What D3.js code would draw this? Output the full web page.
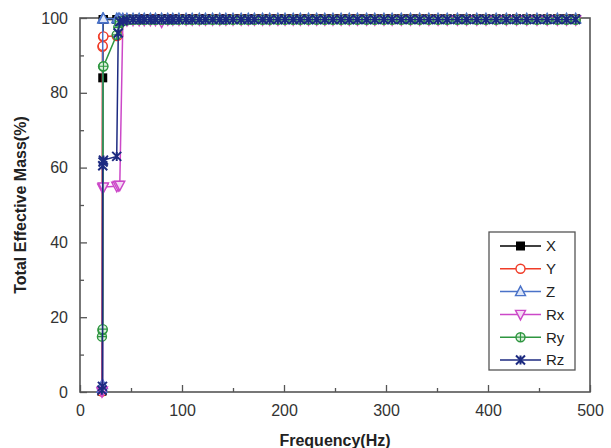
<!DOCTYPE html>
<html><head><meta charset="utf-8">
<script src="https://cdn.jsdelivr.net/npm/d3@7/dist/d3.min.js"></script>
<style>body{margin:0;background:#fff}svg{display:block}text{font-family:"Liberation Sans",Arial,sans-serif}</style>
</head><body><svg id="c" width="611" height="448"></svg>
<script>
const freq = [21.5,22.0,22.3,22.6,23.0,36.0,37.5,39.0,42.0,46.0,
  52,58,63,69,74,80,86,91,97,104,110,117,123,130,137,143,150,158,165,171,179,186,194,201,209,216,224,232,240,248,256,264,272,281,289,298,306,315,324,333,342,351,360,370,379,389,398,408,418,428,438,448,458,468,477,486];
const sX  = [0.2,0.5,84.0,99.6,99.6,99.6,99.6,99.6,99.7,99.7,
  99.7,99.7,99.8,99.8,99.8,99.8,99.8,99.8,99.8,99.8,99.8,99.8,99.8,99.8,99.8,99.8,99.8,99.8,99.8,99.8,99.8,99.8,99.8,99.8,99.8,99.8,99.8,99.8,99.8,99.8,99.8,99.8,99.8,99.8,99.8,99.8,99.8,99.8,99.8,99.8,99.8,99.8,99.8,99.8,99.8,99.8,99.8,99.8,99.8,99.8,99.8,99.8,99.8,99.8,99.8,99.8];
const sY  = [0.1,92.3,92.5,95.0,95.1,95.2,95.4,99.5,99.6,99.6,
  99.6,99.6,99.7,99.7,99.7,99.7,99.7,99.7,99.7,99.7,99.7,99.7,99.7,99.7,99.7,99.7,99.7,99.7,99.7,99.7,99.7,99.7,99.7,99.7,99.7,99.7,99.7,99.7,99.7,99.7,99.7,99.7,99.7,99.7,99.7,99.7,99.7,99.7,99.7,99.7,99.7,99.7,99.7,99.7,99.7,99.7,99.7,99.7,99.7,99.7,99.7,99.7,99.7,99.7,99.7,99.7];
const sZ  = [1.0,2.0,99.8,99.8,99.8,99.8,99.8,99.8,99.8,99.8,
  99.8,99.8,99.8,99.8,99.8,99.8,99.8,99.8,99.8,99.8,99.8,99.8,99.8,99.8,99.8,99.8,99.8,99.8,99.8,99.8,99.8,99.8,99.8,99.8,99.8,99.8,99.8,99.8,99.8,99.8,99.8,99.8,99.8,99.8,99.8,99.8,99.8,99.8,99.8,99.8,99.8,99.8,99.8,99.8,99.8,99.8,99.8,99.8,99.8,99.8,99.8,99.8,99.8,99.8,99.8,99.8];
const sRx = [0.1,0.3,54.5,54.7,54.8,55.0,55.2,55.3,99.0,99.3,
  99.4,99.4,99.4,99.4,99.4,98.9,99.5,99.5,99.5,99.5,99.5,99.5,99.5,99.5,99.5,99.5,99.5,99.5,99.5,99.5,99.5,99.5,99.5,99.5,99.5,99.5,99.5,99.5,99.5,99.5,99.5,99.5,99.5,99.5,99.5,99.5,99.5,99.5,99.5,99.5,99.5,99.5,99.5,99.5,99.5,99.5,99.5,99.5,99.5,99.5,99.5,99.5,99.5,99.5,99.5,99.5];
const sRy = [14.8,16.5,16.8,87.0,87.1,95.5,97.5,99.0,99.2,99.4,
  99.5,99.5,99.5,99.5,99.5,99.5,99.5,99.5,99.5,99.5,99.5,99.5,99.5,99.5,99.5,99.5,99.5,99.5,99.5,99.5,99.5,99.5,99.5,99.5,99.5,99.5,99.5,99.5,99.5,99.5,99.5,99.5,99.5,99.5,99.5,99.5,99.5,99.5,99.5,99.5,99.5,99.5,99.5,99.5,99.5,99.5,99.5,99.5,99.5,99.5,99.5,99.5,99.5,99.5,99.5,99.5];
const sRz = [0.5,1.5,60.5,61.5,62.0,63.0,96.0,99.0,99.3,99.5,
  99.6,99.6,99.6,99.6,99.6,99.6,99.6,99.6,99.6,99.6,99.6,99.6,99.6,99.6,99.6,99.6,99.6,99.6,99.6,99.6,99.6,99.6,99.6,99.6,99.6,99.6,99.6,99.6,99.6,99.6,99.6,99.6,99.6,99.6,99.6,99.6,99.6,99.6,99.6,99.6,99.6,99.6,99.6,99.6,99.6,99.6,99.6,99.6,99.6,99.6,99.6,99.6,99.6,99.6,99.6,99.6];
const seriesNames = ["X","Y","Z","Rx","Ry","Rz"];
const seriesValues = [sX,sY,sZ,sRx,sRy,sRz];
const xTicks = [0,100,200,300,400,500];
const yTicks = [0,20,40,60,80,100];
const xTitle = "Frequency(Hz)";
const yTitle = "Total Effective Mass(%)";

const colors = ["#000000","#f03c28","#4a72c8","#cc48c8","#2e9640","#1c2a80"];
const markers = ["square","circle","triUp","triDown","circPlus","star"];

const svg = d3.select("#c");
const L=80,R=590,T=18,B=392;
const x = d3.scaleLinear().domain([0,500]).range([L,R]);
const y = d3.scaleLinear().domain([0,100]).range([B,T]);
const axisCol="#555";

const gx = svg.append("g").attr("transform",`translate(0,${B})`)
  .call(d3.axisBottom(x).tickValues(d3.range(50,500,100)).tickSize(-4).tickFormat(""));
const gy = svg.append("g").attr("transform",`translate(${L},0)`)
  .call(d3.axisLeft(y).tickValues(d3.range(10,100,20)).tickSize(-4).tickFormat(""));
const gx2 = svg.append("g").attr("transform",`translate(0,${B})`)
  .call(d3.axisBottom(x).tickValues(xTicks).tickSizeInner(-7).tickSizeOuter(0).tickPadding(13));
const gy2 = svg.append("g").attr("transform",`translate(${L},0)`)
  .call(d3.axisLeft(y).tickValues(yTicks).tickSizeInner(-7).tickSizeOuter(0).tickPadding(12));
[gx,gy,gx2,gy2].forEach(g=>{
  g.selectAll("path.domain").remove();
  g.selectAll("line").attr("stroke",axisCol).attr("stroke-width",1.3);
  g.selectAll("text").attr("font-size",16).attr("fill","#333").attr("font-family","Liberation Sans, Arial, sans-serif");
});
gx2.selectAll("text").attr("dy","0.71em");

svg.append("rect").attr("x",L).attr("y",T).attr("width",R-L).attr("height",B-T)
  .attr("fill","none").attr("stroke",axisCol).attr("stroke-width",1.6);

function drawMarker(g,type,cx,cy,col){
  const s=4.5;
  if(type==="square") g.append("rect").attr("x",cx-s).attr("y",cy-s).attr("width",2*s).attr("height",2*s).attr("fill",col);
  else if(type==="circle") g.append("circle").attr("cx",cx).attr("cy",cy).attr("r",s).attr("fill","#fff").attr("stroke",col).attr("stroke-width",1.4);
  else if(type==="triUp") g.append("path").attr("d",`M${cx},${cy-s-1}L${cx+s+0.5},${cy+s-0.5}L${cx-s-0.5},${cy+s-0.5}Z`).attr("fill","#dde6f8").attr("stroke",col).attr("stroke-width",1.4);
  else if(type==="triDown") g.append("path").attr("d",`M${cx},${cy+s+1}L${cx+s+0.5},${cy-s+0.5}L${cx-s-0.5},${cy-s+0.5}Z`).attr("fill","#f4dcf4").attr("stroke",col).attr("stroke-width",1.4);
  else if(type==="circPlus"){ g.append("circle").attr("cx",cx).attr("cy",cy).attr("r",s).attr("fill","#dff0df").attr("stroke",col).attr("stroke-width",1.4);
    g.append("path").attr("d",`M${cx-s},${cy}H${cx+s}M${cx},${cy-s}V${cy+s}`).attr("stroke",col).attr("stroke-width",1.2);}
  else if(type==="star") g.append("path").attr("d",`M${cx-s},${cy-s}L${cx+s},${cy+s}M${cx-s},${cy+s}L${cx+s},${cy-s}M${cx},${cy-s}V${cy+s}`).attr("stroke",col).attr("stroke-width",2);
}

const line = d3.line().x((d,i)=>x(freq[i])).y(d=>y(d));
seriesValues.forEach((vals,k)=>{
  const g=svg.append("g");
  g.append("path").datum(vals).attr("d",line).attr("fill","none").attr("stroke",colors[k]).attr("stroke-width",1.5);
  vals.forEach((v,i)=>drawMarker(g,markers[k],x(freq[i]),y(v),colors[k]));
});

const lg=svg.append("g");
lg.append("rect").attr("x",489).attr("y",232).attr("width",86).attr("height",138).attr("fill","#fff").attr("stroke",axisCol).attr("stroke-width",1.3);
seriesNames.forEach((n,k)=>{
  const yy=246+k*22.8;
  lg.append("line").attr("x1",500).attr("x2",541).attr("y1",yy).attr("y2",yy).attr("stroke",colors[k]).attr("stroke-width",1.5);
  drawMarker(lg,markers[k],520.5,yy,colors[k]);
  lg.append("text").attr("x",546).attr("y",yy).attr("dy","0.36em").attr("font-size",15).attr("fill","#222").text(n);
});

svg.append("text").attr("x",335).attr("y",446).attr("text-anchor","middle").attr("font-size",16).attr("font-weight","bold").attr("fill","#222").text(xTitle);
svg.append("text").attr("transform","translate(26,205) rotate(-90)").attr("text-anchor","middle").attr("font-size",16).attr("font-weight","bold").attr("fill","#222").text(yTitle);
</script></body></html>
